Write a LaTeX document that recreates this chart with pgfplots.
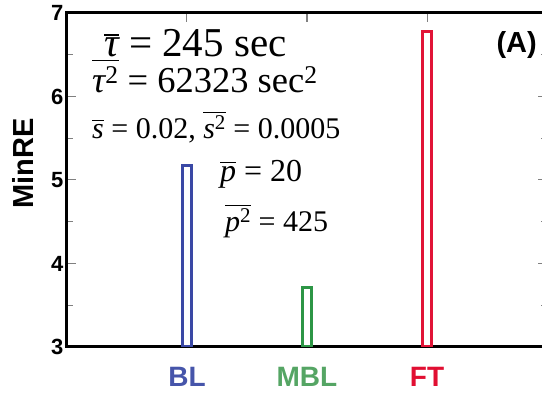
\documentclass[border=0pt]{standalone}
\usepackage{fontspec}
\setmainfont{Liberation Sans}
\newfontfamily\tnr{Liberation Serif}
\usepackage{pgfplots}
\pgfplotsset{compat=1.18}
\definecolor{blc}{RGB}{58,72,165}
\definecolor{mblc}{RGB}{45,150,70}
\definecolor{ftc}{RGB}{225,20,55}
\definecolor{bllab}{RGB}{70,85,170}
\definecolor{mbllab}{RGB}{85,165,100}
\definecolor{ftlab}{RGB}{225,15,50}
\newcommand\ol[3]{\leavevmode\vbox{\hrule height #1\kern#2\hbox{#3}}}
\begin{document}
\begin{tikzpicture}
\useasboundingbox (0,0) rectangle (542pt,396pt);
\clip (0,0) rectangle (542pt,396pt);
\begin{axis}[at={(67pt,49pt)}, anchor=south west, scale only axis,
  width=480pt, height=334pt,
  xmin=0, xmax=4, ymin=3, ymax=7,
  ybar, bar shift=0pt, bar width=8.5pt,
  xtick={1,2,3},
  xticklabels={\textcolor{bllab}{BL},\textcolor{mbllab}{MBL},\textcolor{ftlab}{FT}},
  ytick={3,4,5,6,7}, minor ytick={3.5,4.5,5.5,6.5},
  tick align=inside, major tick length=9pt, minor tick length=6pt,
  tick style={gray, line width=1pt},
  axis line style={line width=3pt},
  /pgf/number format/assume math mode=true,
  yticklabel style={font=\fontsize{22}{22}\selectfont\bfseries},
  xticklabel style={font=\fontsize{28}{28}\selectfont\bfseries, yshift=-17pt},
  ylabel={MinRE},
  ylabel style={font=\fontsize{29}{29}\selectfont\bfseries,
    at={(axis description cs:-0.092,0.55)}, anchor=center, rotate=0},
]
\addplot[draw=blc, fill=white, line width=3pt] coordinates {(1,5.17)};
\addplot[draw=mblc, fill=white, line width=3pt] coordinates {(2,3.71)};
\addplot[draw=ftc, fill=white, line width=3pt] coordinates {(3,6.78)};
\end{axis}
\node[anchor=base west, inner sep=0, font=\tnr\fontsize{41}{41}\selectfont] at (104pt,339pt)
  {\ol{1.8pt}{2pt}{\itshape τ} = 245 sec};
\node[anchor=base west, inner sep=0, font=\tnr\fontsize{36.5}{36.5}\selectfont] at (92pt,303pt)
  {\ol{1.4pt}{6pt}{{\itshape τ}\textsuperscript{2}} = 62323 sec\textsuperscript{2}};
\node[anchor=base west, inner sep=0, font=\tnr\fontsize{30}{30}\selectfont] at (92pt,257pt)
  {\ol{1.3pt}{4pt}{\itshape s} = 0.02, \ol{1.3pt}{3pt}{{\itshape s}\textsuperscript{2}} = 0.0005};
\node[anchor=base west, inner sep=0, font=\tnr\fontsize{32}{32}\selectfont] at (220pt,214pt)
  {\ol{1.4pt}{4pt}{\itshape p} = 20};
\node[anchor=base west, inner sep=0, font=\tnr\fontsize{30}{30}\selectfont] at (225pt,164pt)
  {\ol{1.4pt}{3pt}{{\itshape p}\textsuperscript{2}} = 425};
\node[anchor=east, inner sep=0, font=\fontsize{29}{29}\selectfont\bfseries] at (537pt,351pt) {(A)};
\end{tikzpicture}
\end{document}
